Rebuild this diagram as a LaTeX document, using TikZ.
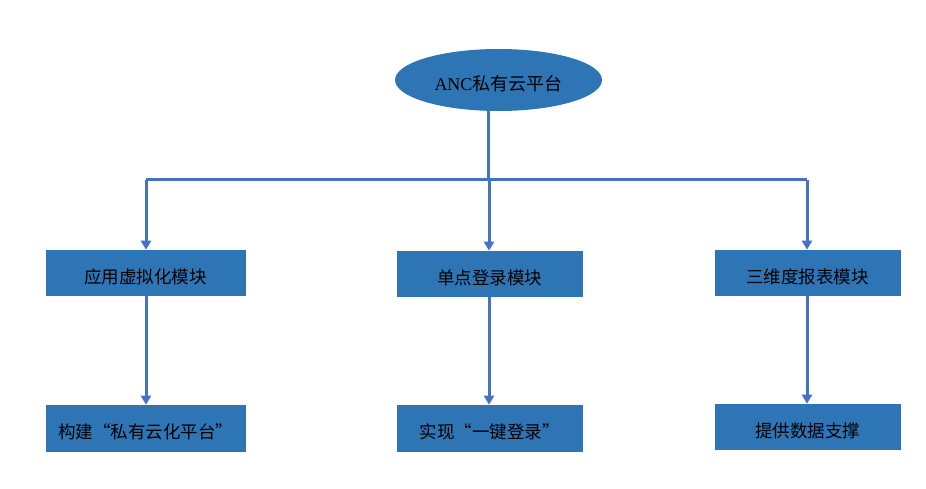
\documentclass[tikz,border=0pt]{standalone}
\usepackage{fontspec}
\setmainfont{Liberation Serif}
\newfontfamily\cjk{Noto Sans CJK SC}
\usetikzlibrary{shapes.geometric,arrows.meta}
\definecolor{boxblue}{HTML}{2E75B6}
\definecolor{lineblue}{HTML}{4472C4}
\newcommand{\dn}[1]{\raisebox{-4pt}[\height][\depth]{#1}}
\tikzset{
  modbox/.style={draw=white, line width=0.6pt, fill=boxblue, inner sep=0pt, font=\cjk\fontsize{17.5}{21}\selectfont, text=black},
  link/.style={draw=lineblue, line width=3pt},
  arr/.style={link, -{Triangle[width=10pt,length=9pt]}, shorten >=-1pt},
}
\begin{document}
\begin{tikzpicture}[x=1pt,y=-1pt]
\useasboundingbox (0,0) rectangle (926,489);
\node[ellipse, fill=boxblue, minimum width=207pt, minimum height=62pt, inner sep=0pt, font=\fontsize{18}{22}\selectfont] (root) at (498.5,80) {\dn{ANC{\cjk 私有云平台}}};
% level 1
\node[modbox, minimum width=201pt, minimum height=47pt] (a1) at (145.5,272.5) {\dn{应用虚拟化模块}};
\node[modbox, minimum width=187pt, minimum height=47pt] (b1) at (489.5,273.5) {\dn{单点登录模块}};
\node[modbox, minimum width=187pt, minimum height=47pt] (c1) at (807.5,272.5) {\dn{三维度报表模块}};
% level 2
\node[modbox, minimum width=201pt, minimum height=48pt, align=left, text width=175pt] (a2) at (145.5,428) {\dn{构建“私有云化平台”}};
\node[modbox, minimum width=187pt, minimum height=48pt] (b2) at (489.5,428) {\dn{实现“一键登录”}};
\node[modbox, minimum width=187pt, minimum height=47pt] (c2) at (807.5,426.5) {\dn{提供数据支撑}};
% connectors
\coordinate (t0) at (488,110);
\coordinate (tj) at (488,180);
\coordinate (la) at (146,180);
\coordinate (lc) at (807,180);
\draw[link] (t0) -- (tj);
\draw[link] (la) -- (lc);
\draw[arr] (la) -- (la |- a1.north);
\draw[arr] (489,180) -- (489,0 |- b1.north);
\draw[arr] (lc) -- (lc |- c1.north);
\draw[arr] (146,0 |- a1.south) -- (146,0 |- a2.north);
\draw[arr] (489,0 |- b1.south) -- (489,0 |- b2.north);
\draw[arr] (807,0 |- c1.south) -- (807,0 |- c2.north);
\end{tikzpicture}
\end{document}
